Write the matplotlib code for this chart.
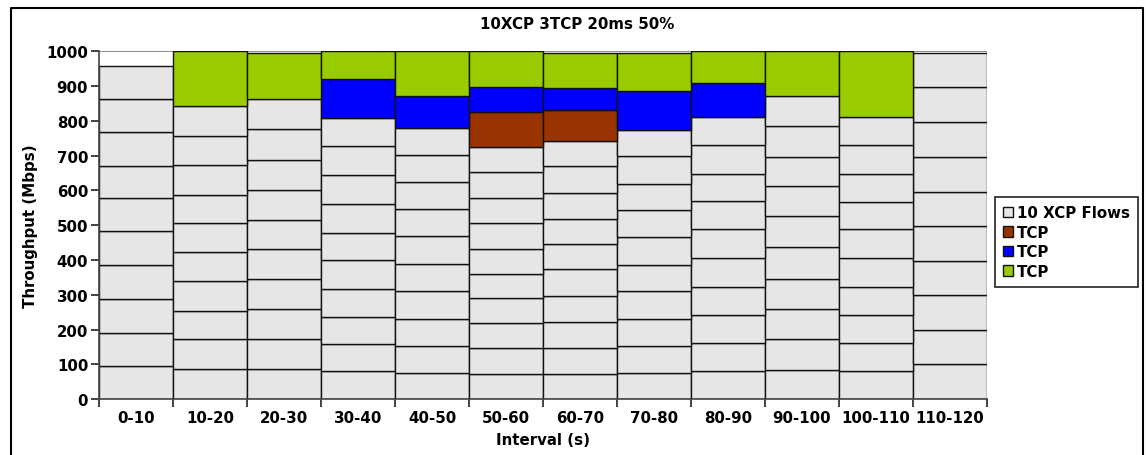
import numpy as np
import matplotlib
matplotlib.use("Agg")
import matplotlib.pyplot as plt
from matplotlib.lines import Line2D
from matplotlib.patches import Patch

intervals = ["0-10", "10-20", "20-30", "30-40", "40-50", "50-60",
             "60-70", "70-80", "80-90", "90-100", "100-110", "110-120"]

# throughput of each of the 10 XCP flows, one row per interval (Mbps)
xcp_flows = [
    [96, 95, 96, 100, 96, 95, 92, 97, 95, 97],
    [86, 86, 83, 86, 82, 83, 81, 87, 84, 86],
    [86, 86, 87, 87, 87, 81, 88, 87, 87, 86],
    [80, 78, 78, 82, 82, 78, 83, 83, 83, 82],
    [76, 78, 78, 78, 78, 82, 77, 77, 79, 77],
    [72, 74, 72, 72, 71, 72, 73, 72, 74, 73],
    [72, 76, 74, 74, 77, 73, 73, 74, 77, 72],
    [76, 77, 79, 78, 77, 78, 78, 77, 78, 77],
    [80, 83, 78, 83, 81, 83, 82, 78, 82, 80],
    [85, 87, 87, 88, 91, 88, 86, 85, 87, 87],
    [80, 83, 78, 82, 82, 83, 78, 82, 82, 82],
    [100, 99, 102, 96, 100, 100, 100, 101, 100, 98],
]
tcp_red = [0, 0, 0, 0, 0, 101, 88, 0, 0, 0, 0, 0]
tcp_blue = [0, 0, 0, 111, 92, 72, 64, 110, 98, 0, 0, 0]
tcp_green = [0, 156, 133, 80, 128, 102, 100, 109, 92, 129, 188, 0]

gray = "#e6e6e6"
red = "#993300"
blue = "#0000ff"
green = "#99cc00"
fs = 10.8

plt.rcParams["font.family"] = "DejaVu Sans"
plt.rcParams["font.weight"] = "bold"

fig = plt.figure(figsize=(11.46, 4.56), dpi=100)
ax = fig.add_axes([0.0867, 0.1222, 0.7743, 0.7631])

x = np.arange(len(intervals))
flows = np.array(xcp_flows)
bottom = np.zeros(len(intervals))
bar_kw = dict(width=1.0, edgecolor="#111111", linewidth=1.0, align="center", zorder=2)
for i in range(flows.shape[1]):
    ax.bar(x, flows[:, i], bottom=bottom, color=gray, **bar_kw)
    bottom += flows[:, i]
for vals, col in [(tcp_red, red), (tcp_blue, blue), (tcp_green, green)]:
    vals = np.array(vals)
    mask = vals > 0
    ax.bar(x[mask], vals[mask], bottom=bottom[mask], color=col, **bar_kw)
    bottom += vals
ax.axhline(1000, color="#777777", linewidth=1.2, zorder=1)

ax.set_xlim(-0.5, len(intervals) - 0.5)
ax.set_ylim(0, 1000)
ax.set_yticks(range(0, 1001, 100))
ax.set_xticks(x)
ax.set_xticklabels(intervals)
ax.set_xticks(np.arange(len(intervals) + 1) - 0.5, minor=True)
ax.tick_params(axis="x", which="major", length=0, pad=8, labelsize=fs)
ax.tick_params(axis="x", which="minor", length=6, width=1.2, color="#222222")
ax.tick_params(axis="y", length=6, width=1.2, color="#222222", labelsize=fs, pad=2)
for lab in ax.get_xticklabels() + ax.get_yticklabels():
    lab.set_fontweight("bold")

for s in ["top", "right"]:
    ax.spines[s].set_visible(False)
for s in ["left", "bottom"]:
    ax.spines[s].set_color("#444444")
    ax.spines[s].set_linewidth(1.2)
    ax.spines[s].set_zorder(3)

ax.set_xlabel("Interval (s)", fontsize=fs, fontweight="bold", labelpad=5)
ax.set_ylabel("Throughput (Mbps)", fontsize=fs, fontweight="bold", labelpad=6)
fig.text(0.5035, 0.947, "10XCP 3TCP 20ms 50%", ha="center", va="center",
         fontsize=fs, fontweight="bold")

handles = [Patch(facecolor=c, edgecolor="#111111", linewidth=1.0)
           for c in [gray, red, blue, green]]
leg = fig.legend(handles, ["10 XCP Flows", "TCP", "TCP", "TCP"],
                 loc="upper left", bbox_to_anchor=(0.868, 0.566),
                 fancybox=False, edgecolor="#222222", framealpha=1,
                 prop={"size": fs, "weight": "bold"},
                 handlelength=0.7, handleheight=0.7, handletextpad=0.25,
                 labelspacing=0.3, borderpad=0.55, borderaxespad=0)
leg.get_frame().set_linewidth(1.2)

# outer frame of the chart image (left, top, right)
W, H = 1146, 456
fx0, fx1, fy = 10.5 / W, 1143 / W, 1 - 8.5 / H
fig.add_artist(Line2D([fx0, fx0, fx1, fx1], [0, fy, fy, 0],
                      transform=fig.transFigure, color="black", linewidth=1.5))

fig.savefig("out.png", dpi=100)
